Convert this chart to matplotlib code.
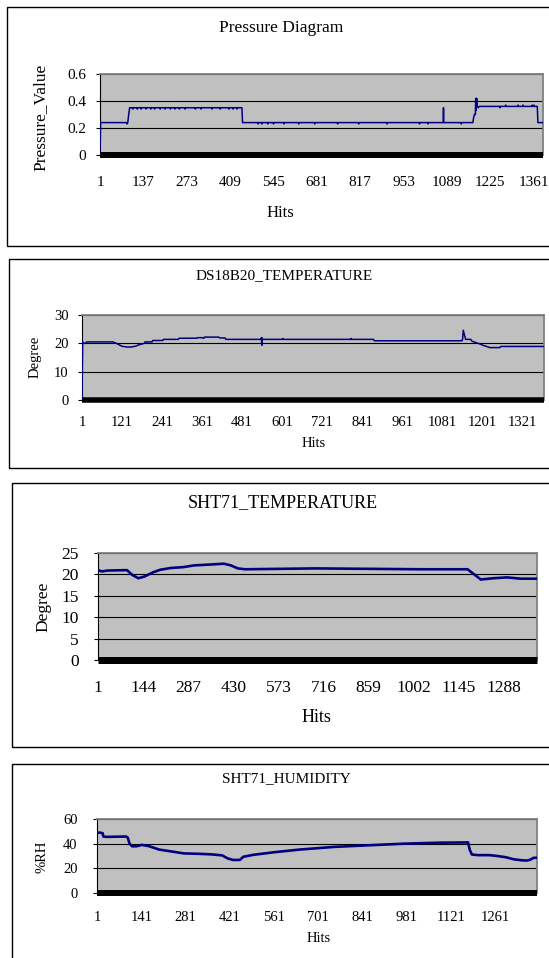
import matplotlib
matplotlib.use("Agg")
import matplotlib.pyplot as plt
from matplotlib.patches import Rectangle

# ---------------- data ----------------
pressure_hits = [1, 3, 84, 86, 88, 91, 94,
                 103, 104, 105, 117, 118, 119, 129, 130, 131, 144, 145, 146,
                 159, 160, 161, 171, 172, 173, 189, 190, 191, 204, 205, 206,
                 221, 222, 223, 235, 236, 237, 249, 250, 251, 267, 268, 269,
                 299, 300, 301, 317, 318, 319, 351, 352, 353, 377, 378, 379,
                 404, 405, 406, 417, 418, 419, 429, 430, 431,
                 446, 448,
                 496, 497, 498, 507, 508, 509, 526, 527, 528, 544, 545, 546,
                 577, 578, 579, 623, 624, 625, 673, 674, 675, 745, 746, 747,
                 811, 812, 813, 900, 901, 902, 1002, 1003, 1004, 1029, 1030, 1031,
                 1077, 1078, 1079, 1133, 1134, 1135,
                 1170, 1172, 1175, 1178, 1179, 1180, 1182, 1184, 1187, 1190,
                 1254, 1255, 1256, 1272, 1273, 1274, 1311, 1312, 1313,
                 1326, 1327, 1328, 1355, 1356, 1357, 1361, 1362, 1363,
                 1372, 1374, 1390]
pressure_vals = [0.01, 0.24, 0.24, 0.23, 0.24, 0.30, 0.35,
                 0.35, 0.34, 0.35, 0.35, 0.34, 0.35, 0.35, 0.34, 0.35, 0.35, 0.34, 0.35,
                 0.35, 0.34, 0.35, 0.35, 0.34, 0.35, 0.35, 0.34, 0.35, 0.35, 0.34, 0.35,
                 0.35, 0.34, 0.35, 0.35, 0.34, 0.35, 0.35, 0.34, 0.35, 0.35, 0.34, 0.35,
                 0.35, 0.34, 0.35, 0.35, 0.34, 0.35, 0.35, 0.34, 0.35, 0.35, 0.34, 0.35,
                 0.35, 0.34, 0.35, 0.35, 0.34, 0.35, 0.35, 0.34, 0.35,
                 0.35, 0.24,
                 0.24, 0.23, 0.24, 0.24, 0.23, 0.24, 0.24, 0.23, 0.24, 0.24, 0.23, 0.24,
                 0.24, 0.23, 0.24, 0.24, 0.23, 0.24, 0.24, 0.23, 0.24, 0.24, 0.23, 0.24,
                 0.24, 0.23, 0.24, 0.24, 0.23, 0.24, 0.24, 0.23, 0.24, 0.24, 0.23, 0.24,
                 0.24, 0.35, 0.24, 0.24, 0.23, 0.24,
                 0.24, 0.27, 0.30, 0.30, 0.42, 0.33, 0.42, 0.36, 0.35, 0.36,
                 0.36, 0.35, 0.36, 0.36, 0.37, 0.36, 0.36, 0.37, 0.36,
                 0.36, 0.37, 0.36, 0.36, 0.37, 0.36, 0.36, 0.37, 0.36,
                 0.36, 0.24, 0.24]
pressure_xticks = [1, 137, 273, 409, 545, 681, 817, 953, 1089, 1225, 1361]
pressure_yticks = [0, 0.2, 0.4, 0.6]
pressure_ylabels = ["0", "0.2", "0.4", "0.6"]

ds_hits = [1, 3, 8, 12, 15, 93, 104, 120, 135, 148, 162, 172, 188, 190, 211, 213,
           243, 245, 290, 292, 345, 347, 360, 366, 368, 410, 415, 430, 432,
           538, 539, 540, 541, 542, 602, 603, 604, 806, 807, 808,
           875, 877, 1140, 1142, 1144, 1151, 1166, 1171, 1181, 1191, 1201, 1211,
           1224, 1254, 1256, 1386]
ds_vals = [1.0, 20.5, 20.0, 20.0, 20.5, 20.5, 20.0, 19.0, 18.7, 18.7, 19.0, 19.5, 20.0, 20.5, 20.5, 21.0,
           21.0, 21.4, 21.4, 21.8, 21.8, 22.0, 22.0, 21.8, 22.2, 22.2, 21.9, 21.9, 21.4,
           21.4, 22.0, 19.3, 21.9, 21.4, 21.4, 21.7, 21.4, 21.4, 21.7, 21.4,
           21.4, 20.9, 20.9, 21.5, 24.6, 21.4, 21.4, 20.7, 20.3, 19.9, 19.4, 19.0,
           18.5, 18.5, 18.9, 18.9]
ds_xticks = [1, 121, 241, 361, 481, 601, 721, 841, 961, 1081, 1201, 1321]
ds_yticks = [0, 10, 20, 30]

sht_t_hits = [1, 14, 31, 93, 109, 129, 148, 176, 199, 232, 271, 305, 355, 400, 422,
              444, 467, 690, 858, 1025, 1172, 1193, 1214, 1253, 1297, 1340, 1392]
sht_t_vals = [21.0, 20.7, 20.9, 21.0, 19.9, 19.1, 19.5, 20.5, 21.1, 21.5, 21.7, 22.1, 22.3, 22.5, 22.1,
              21.4, 21.2, 21.4, 21.3, 21.2, 21.2, 20.0, 18.8, 19.1, 19.3, 19.0, 19.0]
sht_t_xticks = [1, 144, 287, 430, 573, 716, 859, 1002, 1145, 1288]
sht_t_yticks = [0, 5, 10, 15, 20, 25]

sht_h_hits = [1, 8, 19, 21, 32, 93, 98, 104, 112, 126, 143, 165, 198, 231, 276, 320, 364,
              397, 414, 431, 453, 464, 497, 563, 641, 752, 862, 973, 1084, 1175,
              1180, 1187, 1206, 1242, 1268, 1294, 1320, 1346, 1362, 1372, 1382, 1393]
sht_h_vals = [49.0, 49.0, 48.5, 45.8, 45.5, 45.8, 45.0, 40.0, 37.9, 37.9, 39.0, 38.0, 35.2, 33.9, 32.1, 31.8, 31.3,
              30.5, 28.1, 26.8, 26.8, 29.4, 31.0, 33.1, 35.2, 37.4, 38.7, 40.0, 40.8, 41.0,
              35.2, 31.2, 30.7, 30.7, 30.0, 29.0, 27.3, 26.5, 26.3, 27.0, 28.5, 28.6]
sht_h_xticks = [1, 141, 281, 421, 561, 701, 841, 981, 1121, 1261]
sht_h_yticks = [0, 20, 40, 60]

# ---------------- layout ----------------
W, H = 549, 958
FONT = "Liberation Serif"
plt.rcParams["font.family"] = [FONT, "DejaVu Serif"]

fig = plt.figure(figsize=(W / 100, H / 100), dpi=100)
fig.patch.set_facecolor("white")


def frame(x0, y0, x1, y1, lw=1.0, color="black"):
    fig.add_artist(Rectangle((x0 / W, 1 - y1 / H), (x1 - x0) / W, (y1 - y0) / H,
                             transform=fig.transFigure, fill=False, ec=color, lw=lw))


def ftext(x, y, s, size, rot=0):
    fig.text(x / W, 1 - y / H, s, ha="center", va="center", fontsize=size, rotation=rot)


def panel(l, r, t, b, hits, vals, xticks, yticks, ylabels, ymax, tick_fs, xpad, ypad,
          lw_line, band_px):
    ax = fig.add_axes([l / W, 1 - b / H, (r - l) / W, (b - t) / H])
    ax.set_facecolor("#C0C0C0")
    ax.plot(hits, vals, color="#000080", lw=lw_line, zorder=4, solid_joinstyle="round")
    ax.set_xlim(1, hits[-1])
    ax.set_ylim(0, ymax)
    ax.set_xticks(xticks)
    ax.set_xticklabels([str(v) for v in xticks], fontsize=tick_fs)
    ax.set_yticks(yticks)
    ax.set_yticklabels(ylabels, fontsize=tick_fs)
    ax.tick_params(axis="x", length=0, pad=xpad)
    ax.tick_params(axis="y", length=3, width=0.8, pad=ypad, direction="out")
    ax.yaxis.grid(True, color="black", lw=0.8, zorder=1)
    ax.set_axisbelow(True)
    for s in ("top", "right"):
        ax.spines[s].set_color("#808080")
        ax.spines[s].set_linewidth(1.3)
    ax.spines["left"].set_color("black")
    ax.spines["left"].set_linewidth(0.8)
    ax.spines["bottom"].set_visible(False)
    ax.axhline(0, color="black", lw=band_px * 0.72, zorder=5, clip_on=False,
               solid_capstyle="butt")
    return ax


# Panel 1 : Pressure
frame(7, 7, 556, 246)
panel(100, 543, 74, 155, pressure_hits, pressure_vals, pressure_xticks,
      pressure_yticks, pressure_ylabels, 0.6, 11, 15, 7, 1.1, 6)
ftext(281, 28, "Pressure Diagram", 12.5)
ftext(41, 117, "Pressure_Value", 12.5, rot=90)
ftext(280, 213, "Hits", 12)

# Panel 2 : DS18B20
frame(9, 259, 559, 468)
panel(82, 544, 315, 400, ds_hits, ds_vals, ds_xticks,
      ds_yticks, [str(v) for v in ds_yticks], 30, 10.5, 11.5, 6.5, 1.1, 5.5)
ftext(284, 276, "DS18B20_TEMPERATURE", 11)
ftext(35, 357, "Degree", 10.5, rot=90)
ftext(314, 443, "Hits", 10.5)

# Panel 3 : SHT71 temperature
frame(12, 483, 556, 747)
panel(98, 537, 553, 660, sht_t_hits, sht_t_vals, sht_t_xticks,
      sht_t_yticks, [str(v) for v in sht_t_yticks], 25, 12.5, 14.5, 11, 1.9, 7)
ftext(283, 503, "SHT71_TEMPERATURE", 13)
ftext(43, 607, "Degree", 12.5, rot=90)
ftext(316, 717, "Hits", 13)

# Panel 4 : SHT71 humidity
frame(12, 764, 560, 975)
panel(97, 537, 819, 893, sht_h_hits, sht_h_vals, sht_h_xticks,
      sht_h_yticks, [str(v) for v in sht_h_yticks], 60, 10.5, 13, 11, 1.9, 6)
ftext(286, 779, "SHT71_HUMIDITY", 11)
ftext(42, 857, "%RH", 10.5, rot=90)
ftext(319, 938, "Hits", 10.5)

fig.savefig("out.png", dpi=100)
